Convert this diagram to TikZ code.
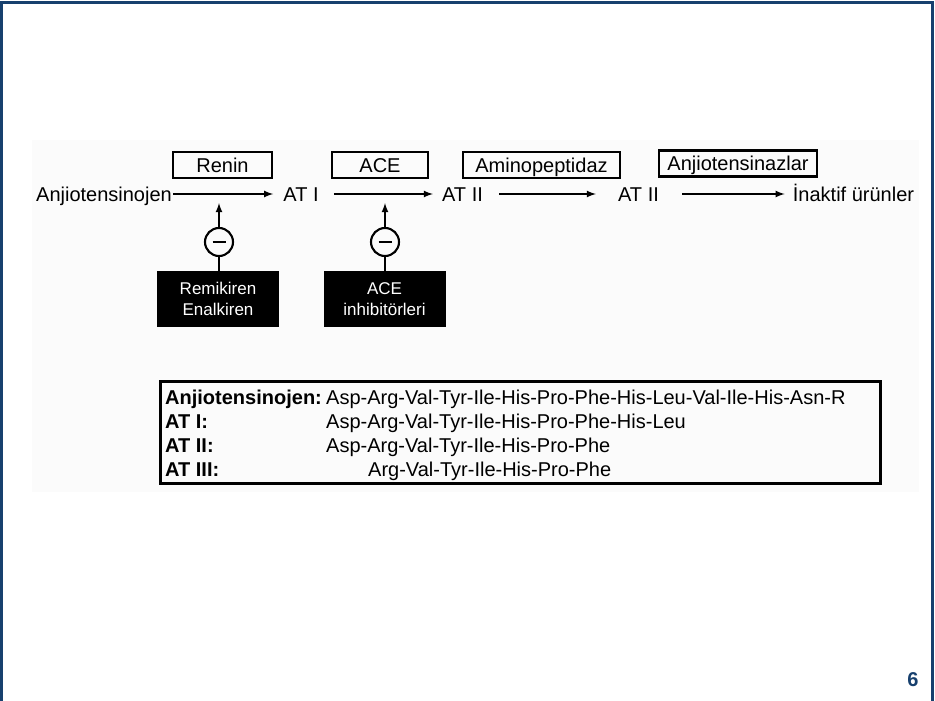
\documentclass[tikz,border=0pt]{standalone}
\usepackage{fontspec}
\setmainfont{Liberation Sans}
\definecolor{slideblue}{RGB}{23,64,110}
\definecolor{figgrey}{RGB}{251,251,251}

\begin{document}
\begin{tikzpicture}[x=1pt, y=-1pt, font=\fontsize{20}{24}\selectfont,
  word/.style={inner sep=0pt, text height=14pt, text depth=0pt},
  flow/.style={->, >=latex, line width=2.1pt},
  enzyme/.style={draw, line width=2.2pt, minimum height=26pt, inner sep=0pt,
    text height=14pt, text depth=0pt},
  blocker/.style={draw, circle, line width=2.1pt, minimum size=28pt, inner sep=0pt},
  drug/.style={fill=black, text=white, minimum width=122pt, minimum height=56pt, inner sep=0pt,
    align=center, font=\fontsize{17}{21}\selectfont},
  seqlbl/.style={anchor=base west, inner sep=0pt, font=\bfseries\fontsize{20}{24}\selectfont},
  seqtxt/.style={anchor=base west, inner sep=0pt}]

\useasboundingbox (0,0) rectangle (935,701);

% slide frame and figure background
\fill[figgrey] (32,140) rectangle (919,492);
\draw[slideblue, line width=3pt] (1.5,720) -- (1.5,2.5) -- (932.5,2.5) -- (932.5,720);


% plot the main chain
\node[word] (anjio) at (104,194) {Anjiotensinojen};
\node[word] (at1) at (301,194) {AT I};
\node[word] (at2a) at (462.5,194) {AT II};
\node[word] (at2b) at (638.5,194) {AT II};
\node[word] (inakt) at (853.5,194) {İnaktif ürünler};

\draw[flow, shorten <=1pt, shorten >=10pt] (anjio) -- (at1);
\draw[flow, shorten <=15pt, shorten >=9pt] (at1) -- (at2a);
\draw[flow, shorten <=16pt, shorten >=22pt] (at2a) -- (at2b);
\draw[flow, shorten <=23pt, shorten >=8pt] (at2b) -- (inakt);


% enzymes above the arrows
\node[enzyme, minimum width=99pt] (renin) at (222.5,165) {Renin};
\node[enzyme, minimum width=96pt] (ace) at (380,165) {ACE};
\node[enzyme, minimum width=157pt] (aminop) at (541.5,165) {Aminopeptidaz};
\node[enzyme, minimum width=158pt] (angase) at (738,163.5) {Anjiotensinazlar};


% inhibitors
\node[blocker] (inh1) at (219,242) {\rule[-1.4pt]{13pt}{2.8pt}};
\node[drug] (blk1) at (218,299) {Remikiren\\Enalkiren};
\coordinate (tip1) at (219,203);
\draw[flow] (inh1) -- (tip1);
\draw[line width=2.1pt] (inh1.south) -- (inh1.south |- blk1.north);

\node[blocker] (inh2) at (385,242) {\rule[-1.4pt]{13pt}{2.8pt}};
\node[drug] (blk2) at (384.5,299) {ACE\\inhibitörleri};
\coordinate (tip2) at (385,203);
\draw[flow] (inh2) -- (tip2);
\draw[line width=2.1pt] (inh2.south) -- (inh2.south |- blk2.north);


% sequence table
\node[draw, line width=3pt, minimum width=720pt, minimum height=102pt] (seqbox) at (520,432) {};

\node[seqlbl] (lbl0) at (165,404.5) {Anjiotensinojen:};
\node[seqlbl] (lbl1) at (165,428.5) {AT I:};
\node[seqlbl] (lbl2) at (165,452.5) {AT II:};
\node[seqlbl] (lbl3) at (165,476.5) {AT III:};

\node[seqtxt] (seq0) at (326,404.5) {Asp-Arg-Val-Tyr-Ile-His-Pro-Phe-His-Leu-Val-Ile-His-Asn-R};
\node[seqtxt] (seq1) at (326,428.5) {Asp-Arg-Val-Tyr-Ile-His-Pro-Phe-His-Leu};
\node[seqtxt] (seq2) at (326,452.5) {Asp-Arg-Val-Tyr-Ile-His-Pro-Phe};
\node[seqtxt] (seq3) at (368,476.5) {Arg-Val-Tyr-Ile-His-Pro-Phe};


% page number
\node[text=slideblue, font=\bfseries\fontsize{20}{22}\selectfont] (pagenum) at (913,680) {6};

\end{tikzpicture}
\end{document}
